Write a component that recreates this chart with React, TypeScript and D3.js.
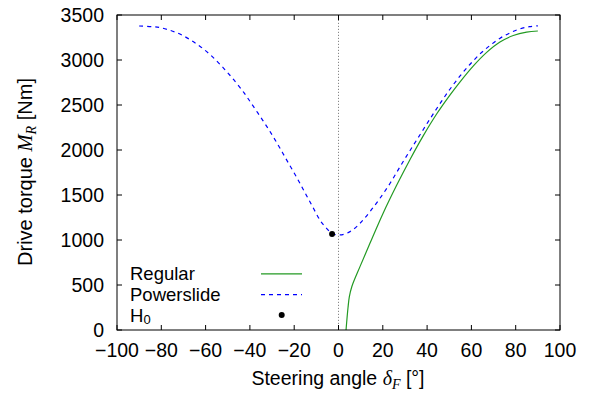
import React from "react";
import * as d3 from "d3";

const xTicks = [-100, -80, -60, -40, -20, 0, 20, 40, 60, 80, 100];
const yTicks = [0, 500, 1000, 1500, 2000, 2500, 3000, 3500];

const powerslideX = [-90, -84, -80.4, -76.7, -73.2, -69.9, -66.6, -63.4, -60.4, -57.6, -54.9, -52.3, -49.8, -47.3, -42.7, -38.5, -34.2, -30.2, -26.4, -22.7, -18.9, -15.3, -11.7, -8.1, -5.4, -2.9, 0.7, 5.2, 9.7, 14.2, 18.7, 23.3, 27.8, 32.3, 36.8, 41.3, 45.8, 50.3, 54.8, 59.3, 63.8, 68.3, 72.8, 77.3, 81.8, 86.3, 90];
const powerslideY = [3378, 3370, 3359, 3335, 3305, 3267, 3220, 3167, 3111, 3052, 2987, 2920, 2852, 2781, 2637, 2487, 2330, 2177, 2019, 1859, 1697, 1533, 1370, 1211, 1130, 1072, 1056, 1093, 1185, 1315, 1463, 1630, 1815, 1995, 2170, 2345, 2515, 2675, 2820, 2950, 3065, 3160, 3240, 3300, 3345, 3370, 3380];

const regularX = [3.4, 4.3, 4.9, 6.0, 9.7, 14.2, 20.2, 26.3, 32.3, 38.3, 44.3, 50.3, 54.8, 60.9, 66.9, 72.9, 78.9, 84.9, 90];
const regularY = [0, 250, 370, 481, 704, 963, 1300, 1610, 1895, 2160, 2400, 2610, 2755, 2935, 3085, 3200, 3272, 3310, 3322];

const h0X = [-2.9];
const h0Y = [1068];

const legendLabels = ["Regular", "Powerslide", "H"];

const W = 590, H = 394;
const L = 117, R = 560, T = 15, B = 330;
const FONT = "'Liberation Sans', Arial, Helvetica, sans-serif";
const MATH = "'Liberation Serif', 'Times New Roman', serif";
const GREEN = "#239a23";
const BLUE = "#0000ff";

export default function App() {
  const x = d3.scaleLinear().domain([-100, 100]).range([L, R]);
  const y = d3.scaleLinear().domain([0, 3500]).range([B, T]);

  const line = d3
    .line<[number, number]>()
    .x((d) => x(d[0]))
    .y((d) => y(d[1]))
    .curve(d3.curveCatmullRom.alpha(0.5));

  const ps: [number, number][] = powerslideX.map((v, i) => [v, powerslideY[i]]);
  const rg: [number, number][] = regularX.map((v, i) => [v, regularY[i]]);

  const tl = 5;
  const fs = 19.5;
  const lfs = 18.5;
  const lb = [280.4, 301.2, 322.0];

  return (
    <div style={{ position: "absolute", left: 0, top: 0 }}>
      <svg width={W} height={H} style={{ display: "block", background: "#fff" }}>
        {/* zero line */}
        <line x1={x(0)} x2={x(0)} y1={B} y2={T} stroke="#888" strokeWidth={1} strokeDasharray="1.2,1.8" />
        {/* ticks */}
        {xTicks.map((t) => (
          <g key={"xt" + t}>
            <line x1={x(t)} x2={x(t)} y1={B} y2={B - tl} stroke="#000" strokeWidth={1} />
            <line x1={x(t)} x2={x(t)} y1={T} y2={T + tl} stroke="#000" strokeWidth={1} />
            <text x={x(t)} y={357} textAnchor="middle" fontFamily={FONT} fontSize={fs} fill="#000">
              {t < 0 ? "\u2212" + Math.abs(t) : String(t)}
            </text>
          </g>
        ))}
        {yTicks.map((t) => (
          <g key={"yt" + t}>
            <line x1={L} x2={L + tl} y1={y(t)} y2={y(t)} stroke="#000" strokeWidth={1} />
            <line x1={R} x2={R - tl} y1={y(t)} y2={y(t)} stroke="#000" strokeWidth={1} />
            <text x={104} y={y(t)} dy="0.35em" textAnchor="end" fontFamily={FONT} fontSize={fs} fill="#000">
              {t}
            </text>
          </g>
        ))}
        {/* curves */}
        <path d={line(rg) || ""} fill="none" stroke={GREEN} strokeWidth={1.2} />
        <path d={line(ps) || ""} fill="none" stroke={BLUE} strokeWidth={1.2} strokeDasharray="4,4" />
        {h0X.map((v, i) => (
          <circle key={"h" + i} cx={x(v)} cy={y(h0Y[i])} r={3} fill="#000" />
        ))}
        {/* frame */}
        <rect x={L} y={T} width={R - L} height={B - T} fill="none" stroke="#000" strokeWidth={1} />
        {/* legend */}
        <text x={130} y={lb[0]} fontFamily={FONT} fontSize={lfs} fill="#000">{legendLabels[0]}</text>
        <line x1={261} x2={302} y1={lb[0] - 6.5} y2={lb[0] - 6.5} stroke={GREEN} strokeWidth={1.2} />
        <text x={130} y={lb[1]} fontFamily={FONT} fontSize={lfs} fill="#000">{legendLabels[1]}</text>
        <line x1={261} x2={302} y1={lb[1] - 6.5} y2={lb[1] - 6.5} stroke={BLUE} strokeWidth={1.2} strokeDasharray="4,4" />
        <text x={130} y={lb[2]} fontFamily={FONT} fontSize={lfs} fill="#000">
          {legendLabels[2]}
          <tspan fontSize={13} dy={2}>0</tspan>
        </text>
        <circle cx={281.7} cy={315} r={3} fill="#000" />
        {/* x label */}
        <text x={338} y={385} textAnchor="middle" fontFamily={FONT} fontSize={fs} fill="#000">
          Steering angle{" "}
          <tspan fontFamily={MATH} fontStyle="italic" fontSize={20}>δ</tspan>
          <tspan fontFamily={MATH} fontStyle="italic" fontSize={14} dy={4}>F</tspan>
          <tspan dy={-4}> [°]</tspan>
        </text>
        {/* y label */}
        <text
          transform={`translate(31.5, ${172}) rotate(-90)`}
          textAnchor="middle"
          fontFamily={FONT}
          fontSize={20}
          fill="#000"
        >
          Drive torque{" "}
          <tspan fontFamily={MATH} fontStyle="italic" fontSize={20.5}>M</tspan>
          <tspan fontFamily={MATH} fontStyle="italic" fontSize={14} dy={4}>R</tspan>
          <tspan dy={-4}> [Nm]</tspan>
        </text>
      </svg>
    </div>
  );
}
